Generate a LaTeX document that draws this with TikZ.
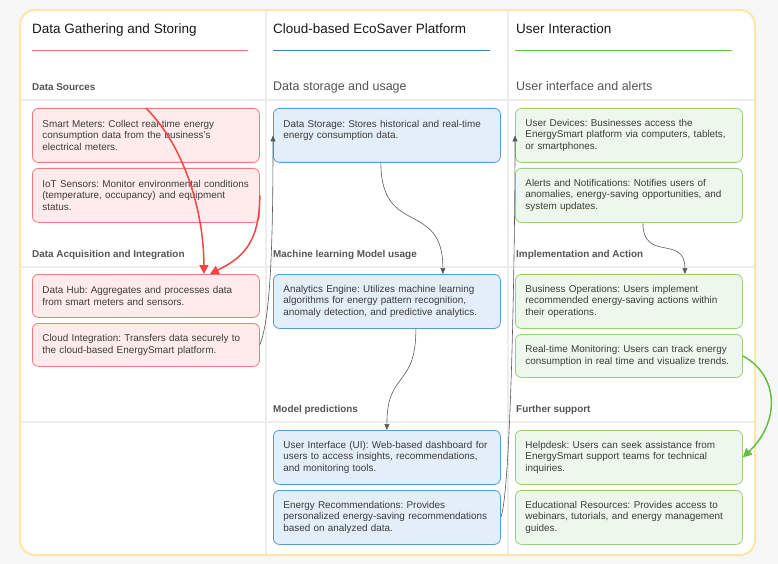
\documentclass[tikz,border=0pt]{standalone}
\usepackage{fontspec}
\setmainfont{Liberation Sans}
\usepackage{xcolor}
\usetikzlibrary{arrows.meta}
\frenchspacing
\definecolor{pagebg}{HTML}{F7F7F7}
\definecolor{cardline}{HTML}{FBE7A6}
\definecolor{gridline}{HTML}{EDEDED}
\definecolor{redfill}{HTML}{FFEBEB}
\definecolor{redline}{HTML}{F27A7A}
\definecolor{redarrow}{HTML}{F04646}
\definecolor{bluefill}{HTML}{E3EEF9}
\definecolor{blueline}{HTML}{5A9BD5}
\definecolor{greenfill}{HTML}{EEF7EB}
\definecolor{greenline}{HTML}{97D077}
\definecolor{greenarrow}{HTML}{64BE46}
\definecolor{boxtext}{HTML}{3C3C3C}
\definecolor{subgray}{HTML}{555555}
\definecolor{flowgray}{HTML}{5A5A5A}

\begin{document}
\begin{tikzpicture}[x=1pt,y=-1pt,
  box/.style={draw, rounded corners=6pt, line width=0.8pt, anchor=north west,
    minimum width=227pt, text width=207pt, inner xsep=10pt, inner ysep=0pt,
    align=left, text=boxtext, font=\fontsize{9.9}{11.7}\selectfont\frenchspacing},
  redbox/.style={box, draw=redline, fill=redfill},
  bluebox/.style={box, draw=blueline, fill=bluefill},
  greenbox/.style={box, draw=greenline, fill=greenfill},
  head/.style={anchor=base west, inner sep=0pt, text=black!90, font=\fontsize{13.5}{16}\selectfont},
  sub/.style={anchor=base west, inner sep=0pt, text=subgray, font=\fontsize{9.9}{12}\selectfont\bfseries},
  bigsub/.style={anchor=base west, inner sep=0pt, text=subgray, font=\fontsize{12.5}{15}\selectfont},
  flow/.style={draw=flowgray, line width=0.6pt, -{Triangle[length=6pt,width=5pt]}},
  redflow/.style={draw=redarrow, line width=1.5pt, -{Triangle[length=9pt,width=9pt]}},
  greenflow/.style={draw=greenarrow, line width=1.5pt, -{Triangle[length=9pt,width=9pt]}}]
\useasboundingbox (0,0) rectangle (778,564);
\fill[pagebg] (0,0) rectangle (778,564);
% Card
\draw[cardline, fill=white, line width=2pt, rounded corners=15pt] (20,10) rectangle (755,555);
% Grid
\draw[gridline, line width=1.2pt] (266,11) -- (266,554);
\draw[gridline, line width=1.2pt] (508,11) -- (508,554);
\foreach \y in {100,267,422} {\draw[gridline, line width=1.2pt] (21,\y) -- (754,\y);}
% Column titles
\node[head] (t1) at (32,34) {Data Gathering and Storing};
\node[head] (t2) at (273,34) {Cloud-based EcoSaver Platform};
\node[head] (t3) at (516,34) {User Interaction};
\draw[redline!90!red, line width=1pt] (32,51) -- (248,51);
\draw[blueline!80!black, line width=1pt] (273,51) -- (490,51);
\draw[greenarrow, line width=1pt] (515,51) -- (732,51);
% Row titles
\node[sub] (s11) at (32,91) {Data Sources};
\node[bigsub] (s21) at (273,91) {Data storage and usage};
\node[bigsub] (s31) at (516,91) {User interface and alerts};
\node[sub] (s12) at (32,257) {Data Acquisition and Integration};
\node[sub] (s22) at (273,257) {Machine learning Model usage};
\node[sub] (s32) at (516,257) {Implementation and Action};
\node[sub] (s23) at (273,412) {Model predictions};
\node[sub] (s33) at (516,412) {Further support};
% Data gathering
\node[redbox, minimum height=54pt] (meters) at (32,108) {Smart Meters: Collect real-time energy\\consumption data from the business's\\electrical meters.};
\node[redbox, minimum height=54pt] (sensors) at (32,168) {\mbox{IoT Sensors: Monitor environmental conditions}\\(temperature, occupancy) and equipment\\status.};
\node[redbox, minimum height=43pt] (hub) at (32,274) {Data Hub: Aggregates and processes data\\from smart meters and sensors.};
\node[redbox, minimum height=43pt] (cloud) at (32,323) {\mbox{Cloud Integration: Transfers data securely to}\\the cloud-based EnergySmart platform.};
% Platform
\node[bluebox, minimum height=54pt] (storage) at (273,108) {\mbox{Data Storage: Stores historical and real-time}\\energy consumption data.\\\mbox{}};
\node[bluebox, minimum height=54pt] (analytics) at (273,274) {Analytics Engine: Utilizes machine learning\\algorithms for energy pattern recognition,\\anomaly detection, and predictive analytics.};
\node[bluebox, minimum height=54pt] (ui) at (273,430) {\mbox{User Interface (UI): Web-based dashboard for}\\users to access insights, recommendations,\\and monitoring tools.};
\node[bluebox, minimum height=54pt] (recs) at (273,490) {Energy Recommendations: Provides\\\mbox{personalized energy-saving recommendations}\\based on analyzed data.};
% User interaction
\node[greenbox, minimum height=54pt] (devices) at (515,108) {User Devices: Businesses access the\\\mbox{EnergySmart platform via computers, tablets,}\\or smartphones.};
\node[greenbox, minimum height=54pt] (alerts) at (515,168) {Alerts and Notifications: Notifies users of\\anomalies, energy-saving opportunities, and\\system updates.};
\node[greenbox, minimum height=54pt] (busops) at (515,274) {Business Operations: Users implement\\recommended energy-saving actions within\\their operations.};
\node[greenbox, minimum height=43pt] (monitor) at (515,334) {\mbox{Real-time Monitoring: Users can track energy}\\\mbox{consumption in real time and visualize trends.}};
\node[greenbox, minimum height=54pt] (helpdesk) at (515,430) {Helpdesk: Users can seek assistance from\\EnergySmart support teams for technical\\inquiries.};
\node[greenbox, minimum height=54pt] (edu) at (515,490) {Educational Resources: Provides access to\\\mbox{webinars, tutorials, and energy management}\\guides.};
% Flows
\draw[flow] (cloud.east) .. controls +(10,-25) and +(0,120) .. (storage.west);
\draw[flow] ([xshift=-6pt]storage.south) .. controls +(0,75) and +(0,-75) .. ([xshift=56pt]analytics.north);
\draw[flow] ([xshift=29pt]analytics.south) .. controls +(0,60) and +(0,-60) .. (ui.north);
\draw[flow] (recs.east) .. controls +(10,-25) and +(0,120) .. (devices.west);
\draw[flow] ([xshift=14pt]alerts.south) .. controls +(0,40) and +(0,-40) .. ([xshift=56pt]busops.north);
\draw[redflow] (meters.north) .. controls +(40,40) and +(0,-60) .. ([xshift=58pt]hub.north);
\draw[redflow] (sensors.east) .. controls +(0,50) and +(30,-15) .. ([xshift=64pt]hub.north);
\draw[greenflow] (monitor.east) .. controls +(37,20) and +(37,-35) .. (helpdesk.east);
\end{tikzpicture}
\end{document}
